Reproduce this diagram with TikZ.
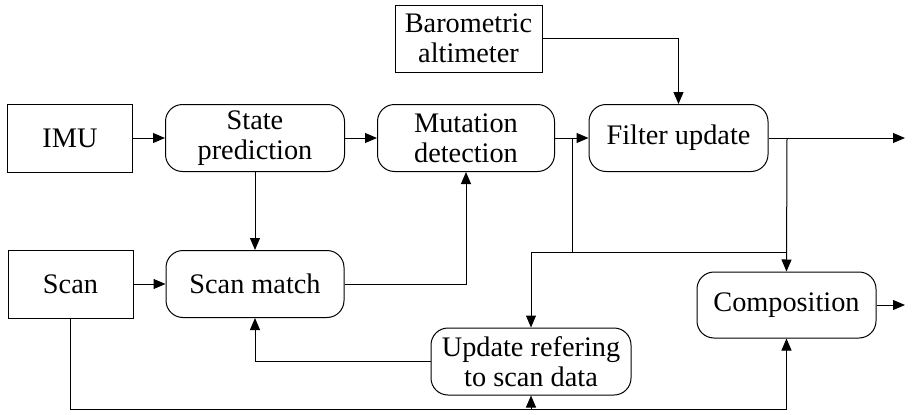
\documentclass[tikz,border=0pt]{standalone}
\usepackage{fontspec}
\setmainfont{Liberation Serif}
\usetikzlibrary{arrows.meta}
\begin{document}
\begin{tikzpicture}[x=1pt,y=-1pt,
  every node/.style={font=\fontsize{28.3}{30}\selectfont, align=center, inner sep=0pt, line width=1pt},
  sq/.style={draw, rectangle},
  rnd/.style={draw, rectangle, rounded corners=17pt},
  con/.style={line width=1pt},
  arr/.style={con, -{Triangle[length=12pt,width=10pt]}}]
\useasboundingbox (0,0) rectangle (916,415);
\node[sq, minimum width=125pt, minimum height=68pt] (imu) at (70,138) {IMU};
\node[rnd, minimum width=179pt, minimum height=67pt] (state) at (255,138) {State\\prediction};
\node[rnd, minimum width=177pt, minimum height=67pt] (mut) at (466,138) {Mutation\\detection};
\node[rnd, minimum width=179pt, minimum height=67pt] (filt) at (678.5,138) {Filter update};
\node[sq, minimum width=147pt, minimum height=67pt] (baro) at (468.5,38.5) {Barometric\\altimeter};
\node[sq, minimum width=125pt, minimum height=68pt] (scan) at (70.5,284) {Scan};
\node[rnd, minimum width=178pt, minimum height=67pt] (match) at (255,284) {Scan match};
\node[rnd, minimum width=200pt, minimum height=67pt] (upd) at (531,361.5) {Update refering\\to scan data};
\node[rnd, minimum width=179pt, minimum height=66pt] (comp) at (786.5,305) {Composition};
\coordinate (fout) at (905,138);
\coordinate (cout) at (905,305);
\coordinate (j1) at (572,138);
\coordinate (j2) at (787,138);
\coordinate (bot) at (0,409);
\draw[arr] (imu) -- (state);
\draw[arr] (state) -- (mut);
\draw[arr] (mut) -- (filt);
\draw[arr] (filt) -- (fout);
\draw[arr] (comp) -- (cout);
\draw[arr] (scan) -- (match);
\draw[arr] (state) -- (match);
\draw[arr] (baro.east) -| (filt.north);
\draw[arr] (match.east) -| (mut.south);
\draw[arr] (upd.west) -| (match.south);
\draw[arr] (j2) -- (comp.north);
\draw[con] (j1) -- (572,252);
\draw[arr] (787,252) -| (upd.north);
\draw[arr] (scan.south) |- (comp.south |- bot) -- (comp.south);
\draw[arr] (upd.south |- bot) -- (upd.south);
\end{tikzpicture}
\end{document}
